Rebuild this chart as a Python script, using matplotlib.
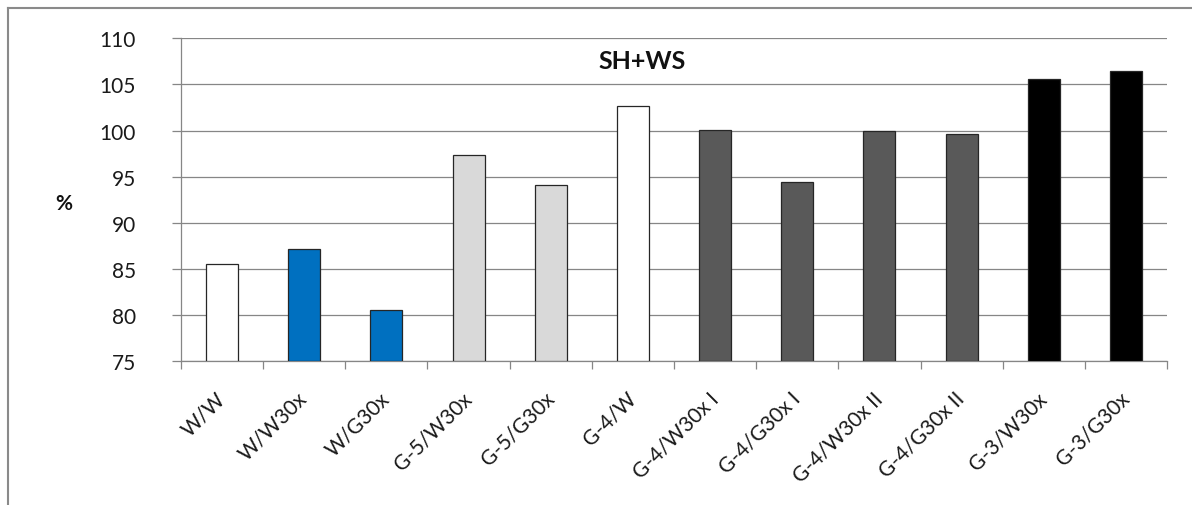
import matplotlib.pyplot as plt
import numpy as np
from matplotlib.lines import Line2D

# data
categories = ['W/W', 'W/W30x', 'W/G30x', 'G-5/W30x', 'G-5/G30x', 'G-4/W',
              'G-4/W30x I', 'G-4/G30x I', 'G-4/W30x II', 'G-4/G30x II',
              'G-3/W30x', 'G-3/G30x']
values = [85.5, 87.1, 80.5, 97.35, 94.1, 102.7,
          100.1, 94.4, 100.0, 99.6, 105.55, 106.5]
bar_colors = ['#FFFFFF', '#0070C0', '#0070C0', '#D9D9D9', '#D9D9D9', '#FFFFFF',
              '#595959', '#595959', '#595959', '#595959', '#000000', '#000000']
yticks = [75, 80, 85, 90, 95, 100, 105, 110]

W, H = 1192, 506
plt.rcParams['font.family'] = ['Lato', 'DejaVu Sans']
fig = plt.figure(figsize=(W / 100, H / 100), dpi=100)

left, right, top, bottom = 181, 1167, 39.3, 362
ax = fig.add_axes([left / W, 1 - bottom / H, (right - left) / W, (bottom - top) / H])

grid_c = '#868686'
x = np.arange(len(categories))
ax.bar(x, np.array(values) - 75, bottom=75, width=0.39, color=bar_colors,
       edgecolor='#262626', linewidth=0.9, zorder=3)

ax.set_xlim(-0.5, len(categories) - 0.5)
ax.set_ylim(75, 110)
ax.set_yticks(yticks)
ax.yaxis.grid(True, color=grid_c, linewidth=0.9, zorder=0)
ax.tick_params(axis='y', length=6.5, width=0.9, color=grid_c, pad=26,
               labelsize=15, labelcolor='#1a1a1a')

ax.set_xticks(x)
ax.set_xticklabels(categories, rotation=45, ha='right', va='center',
                   rotation_mode='anchor')
ax.tick_params(axis='x', which='major', length=0, pad=24.5, labelsize=15,
               labelcolor='#1a1a1a')
ax.set_xticks(np.arange(len(categories) + 1) - 0.5, minor=True)
ax.tick_params(axis='x', which='minor', length=5.5, width=0.9, color=grid_c)

for s in ['top', 'right']:
    ax.spines[s].set_visible(False)
for s in ['left', 'bottom']:
    ax.spines[s].set_color(grid_c)
    ax.spines[s].set_linewidth(0.9)

fig.text(642 / W, 1 - 61.5 / H, 'SH+WS', ha='center', va='center',
         fontsize=18, fontweight='bold', color='#111111')
fig.text(64 / W, 1 - 204 / H, '%', ha='center', va='center',
         fontsize=15, fontweight='bold', color='#111111')

# outer chart frame (cut off on the right and bottom in the reference)
fig.add_artist(Line2D([8 / W, 8 / W], [0, 1 - 9 / H], transform=fig.transFigure,
                      color='#8a8a8a', linewidth=1.5))
fig.add_artist(Line2D([8 / W, 1], [1 - 9 / H, 1 - 9 / H], transform=fig.transFigure,
                      color='#8a8a8a', linewidth=1.5))

fig.savefig('out.png', dpi=100)
